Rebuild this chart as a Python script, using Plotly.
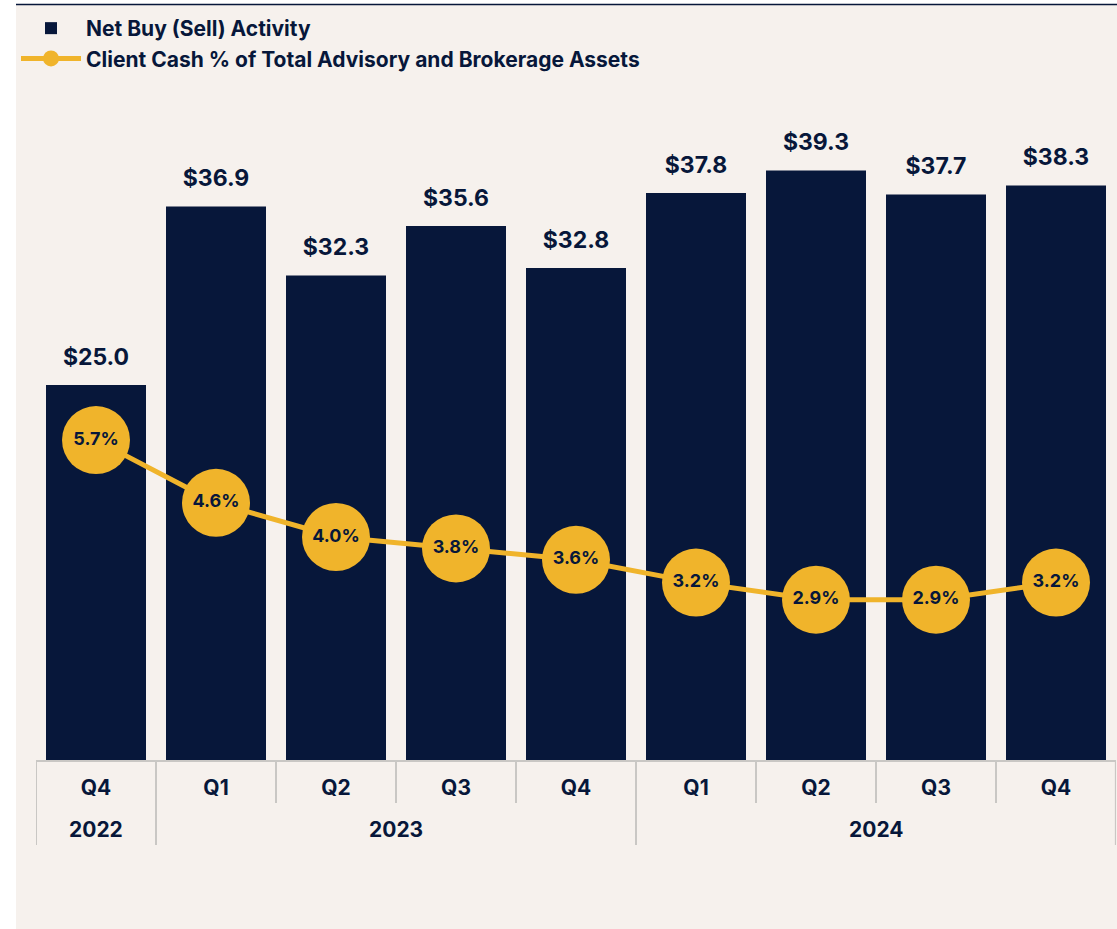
import plotly.graph_objects as go

years = ["2022", "2023", "2023", "2023", "2023", "2024", "2024", "2024", "2024"]
quarters = ["Q4", "Q1", "Q2", "Q3", "Q4", "Q1", "Q2", "Q3", "Q4"]
net_buy = [25.0, 36.9, 32.3, 35.6, 32.8, 37.8, 39.3, 37.7, 38.3]
cash_pct = [5.7, 4.6, 4.0, 3.8, 3.6, 3.2, 2.9, 2.9, 3.2]

NAVY = "#07173a"
GOLD = "#f0b42b"
BG = "#f6f1ed"
GRID = "#c9c7c4"
FONT = "Inter"

W, H = 1117, 929
ML, MT = 36, 100
PW = 1080
PH = 660
MR = W - ML - PW
MB = H - MT - PH

keys = [y + " " + q for y, q in zip(years, quarters)]
bar_labels = ["$%.1f" % v for v in net_buy]
pct_labels = ["%.1f%%" % v for v in cash_pct]


def px_x(p):
    return (p - ML) / PW


def px_y(p):
    return (MT + PH - p) / PH


fig = go.Figure()
fig.add_trace(go.Bar(
    x=keys, y=net_buy, name="Net Buy (Sell) Activity",
    marker=dict(color=NAVY, line=dict(width=0)),
    legendgroup="a", hoverinfo="skip",
))
fig.add_trace(go.Scatter(
    x=keys, y=net_buy, mode="markers+text", text=bar_labels,
    textposition="top center",
    textfont=dict(family=FONT, size=23, color=NAVY, weight=700),
    marker=dict(size=22, color="rgba(0,0,0,0)"),
    showlegend=False, hoverinfo="skip", cliponaxis=False,
))
fig.add_trace(go.Scatter(
    x=keys, y=cash_pct, yaxis="y2", mode="lines+markers+text",
    name="Client Cash % of Total Advisory and Brokerage Assets",
    text=pct_labels, textposition="middle center",
    textfont=dict(family=FONT, size=18, color=NAVY, weight=700),
    line=dict(color=GOLD, width=5),
    marker=dict(size=68, color=GOLD),
    legendgroup="b", hoverinfo="skip", cliponaxis=False,
))

shapes = []
# white left strip and top strip
shapes.append(dict(type="rect", xref="paper", yref="paper", x0=px_x(0), x1=px_x(16),
                   y0=px_y(H), y1=px_y(0), fillcolor="white", line=dict(width=0), layer="above"))
shapes.append(dict(type="rect", xref="paper", yref="paper", x0=px_x(0), x1=px_x(W),
                   y0=px_y(4), y1=px_y(0), fillcolor="white", line=dict(width=0), layer="above"))
# navy rule at the top
shapes.append(dict(type="line", xref="paper", yref="paper", x0=px_x(16), x1=px_x(W),
                   y0=px_y(4.5), y1=px_y(4.5), line=dict(color=NAVY, width=1.5)))

# separators under the axis
n = len(keys)
for i in range(n + 1):
    is_year_edge = i == 0 or i == n or years[i] != years[i - 1]
    bottom = 845 if is_year_edge else 803
    xpos = i - 0.5 if i < n else n - 0.5 - 0.001
    shapes.append(dict(type="line", xref="x", yref="paper", x0=xpos, x1=xpos,
                       y0=0, y1=px_y(bottom), line=dict(color=GRID, width=2)))

# year labels centred under their quarters
annotations = []
seen = []
for y in years:
    if y not in seen:
        seen.append(y)
for y in seen:
    idx = [i for i, yy in enumerate(years) if yy == y]
    annotations.append(dict(
        x=sum(idx) / len(idx), y=px_y(830), xref="x", yref="paper",
        text=y, showarrow=False, yanchor="middle", xanchor="center",
        font=dict(family=FONT, size=21, color=NAVY, weight=700),
    ))

fig.update_layout(
    width=W, height=H,
    margin=dict(l=ML, r=MR, t=MT, b=MB),
    paper_bgcolor=BG, plot_bgcolor="rgba(0,0,0,0)",
    bargap=1 / 6,
    showlegend=True,
    legend=dict(
        xref="paper", yref="paper", x=px_x(16), y=px_y(8),
        xanchor="left", yanchor="top",
        font=dict(family=FONT, size=21, color=NAVY, weight=700),
        bgcolor="rgba(0,0,0,0)", itemwidth=60, tracegroupgap=6,
        traceorder="normal",
    ),
    xaxis=dict(
        type="category", range=[-0.5, n - 0.5], showgrid=False, zeroline=False,
        showline=True, linecolor=GRID, linewidth=2,
        ticks="", tickvals=keys, ticktext=quarters,
        tickfont=dict(family=FONT, size=21, color=NAVY, weight=700),
        ticklabelstandoff=8,
    ),
    yaxis=dict(range=[0, PH / 15], visible=False, showgrid=False, zeroline=False),
    yaxis2=dict(range=[5 / 57, (765 - 100) / 57], overlaying="y", visible=False,
                showgrid=False, zeroline=False),
    shapes=shapes,
    annotations=annotations,
)

fig.write_html("out.html", config={"displayModeBar": False},
               post_script="document.body.style.margin='0';")
